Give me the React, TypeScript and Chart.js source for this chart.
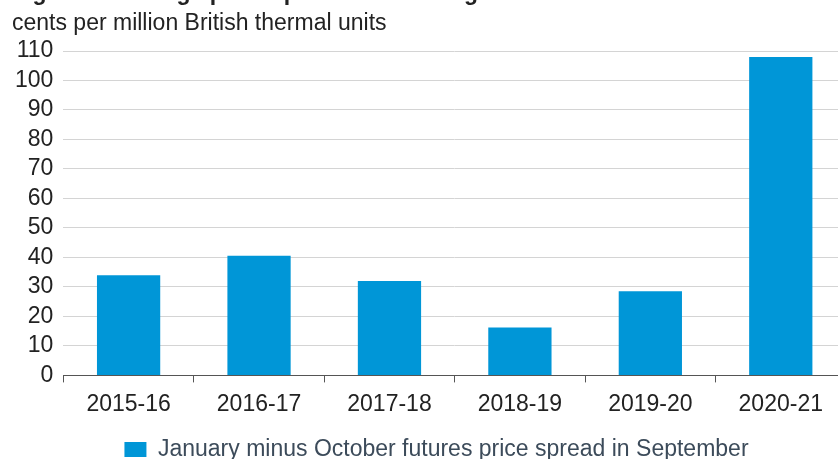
import React, { useEffect, useRef } from "react";
import { Chart, registerables } from "chart.js";

Chart.register(...registerables);

const categories = ["2015-16", "2016-17", "2017-18", "2018-19", "2019-20", "2020-21"];
const spreadValues = [34, 40.6, 32, 16.2, 28.5, 108];
const seriesLabel = "January minus October futures price spread in September";
const titleText = "Figure 8. Average price spread of natural gas futures";
const unitText = "cents per million British thermal units";
const yMin = 0;
const yMax = 110;
const yStep = 10;

const FONT = "'Liberation Sans', Arial, sans-serif";

const legendShift = {
  id: "legendShift",
  afterLayout(chart: any) {
    const lg = chart.legend;
    if (lg) {
      lg.left += 11;
      lg.right += 11;
    }
  },
};

export default function App() {
  const ref = useRef<HTMLCanvasElement>(null);

  useEffect(() => {
    if (!ref.current) return;
    const chart = new Chart(ref.current, {
      type: "bar",
      data: {
        labels: categories,
        datasets: [
          {
            label: seriesLabel,
            data: spreadValues,
            backgroundColor: "#0096d7",
            borderWidth: 0,
            categoryPercentage: 1,
            barPercentage: 0.485,
          },
        ],
      },
      plugins: [legendShift],
      options: {
        responsive: false,
        animation: false,
        layout: { padding: { top: 51, left: 5, right: 26, bottom: 0 } },
        plugins: {
          tooltip: { enabled: false },
          legend: {
            position: "bottom",
            labels: {
              color: "#3c4b5a",
              font: { family: FONT, size: 23 },
              boxWidth: 22,
              boxHeight: 15,
              padding: 12,
              useBorderRadius: true,
            },
          },
        },
        scales: {
          x: {
            grid: {
              display: true,
              drawOnChartArea: false,
              drawTicks: true,
              tickLength: 7,
              color: "#555",
            },
            border: { display: true, color: "#555", width: 1 },
            ticks: {
              color: "#222",
              font: { family: FONT, size: 23 },
              padding: 8,
            },
          },
          y: {
            min: yMin,
            max: yMax,
            grid: { color: "#d4d4d4", drawTicks: false, lineWidth: 1 },
            border: { display: false },
            ticks: {
              stepSize: yStep,
              autoSkip: false,
              color: "#222",
              font: { family: FONT, size: 23 },
              padding: 10,
            },
          },
        },
      },
    });
    return () => chart.destroy();
  }, []);

  return (
    <div
      style={{
        position: "absolute",
        left: 0,
        top: 0,
        width: 838,
        height: 459,
        overflow: "hidden",
        background: "#fff",
      }}
    >
      <canvas
        ref={ref}
        width={872}
        height={471}
        style={{ position: "absolute", left: 0, top: 0 }}
      />
      <div
        style={{
          position: "absolute",
          left: 12,
          top: -21,
          fontFamily: FONT,
          fontSize: 23,
          fontWeight: "bold",
          color: "#222",
          whiteSpace: "nowrap",
          lineHeight: "26px",
        }}
      >
        {titleText}
      </div>
      <div
        style={{
          position: "absolute",
          left: 12,
          top: 9,
          fontFamily: FONT,
          fontSize: 23,
          color: "#222",
          whiteSpace: "nowrap",
          lineHeight: "26px",
        }}
      >
        {unitText}
      </div>
    </div>
  );
}
